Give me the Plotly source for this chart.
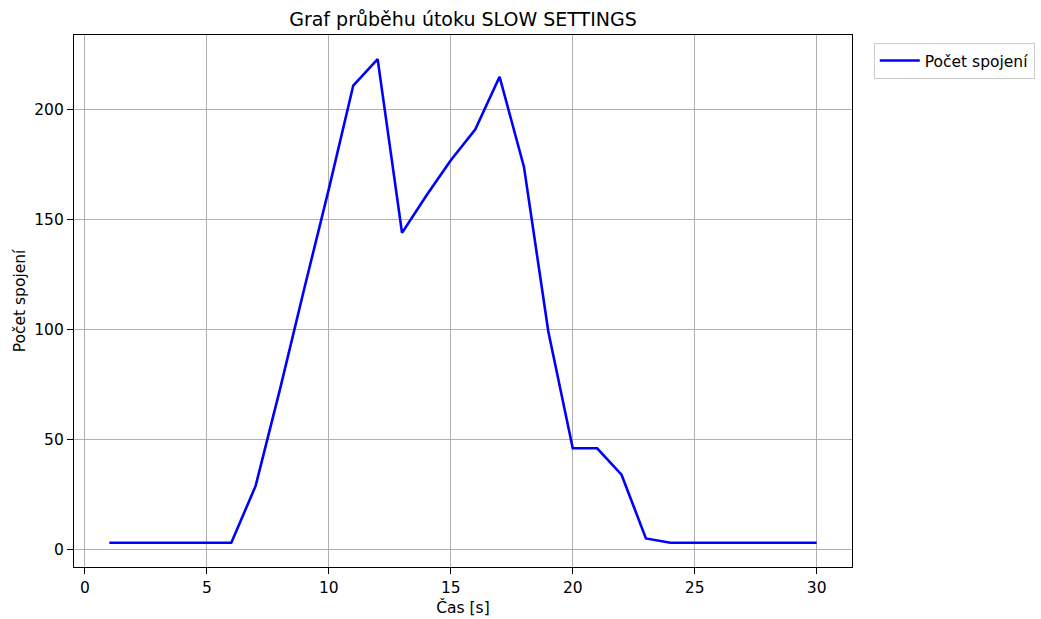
import plotly.graph_objects as go

cas = list(range(1, 31))
pocet_spojeni = [3, 3, 3, 3, 3, 3, 29, 73, 119, 164, 211, 223, 144, 161, 177, 191, 215, 174, 99, 46,
                 46, 34, 5, 3, 3, 3, 3, 3, 3, 3]
x_ticks = [0, 5, 10, 15, 20, 25, 30]
y_ticks = [0, 50, 100, 150, 200]

font_family = "DejaVu Sans"
small = 15.5

fig = go.Figure()
fig.add_trace(go.Scatter(
    x=cas, y=pocet_spojeni, mode="lines", name="Počet spojení",
    line=dict(color="#0000ff", width=2.6),
))

axis_common = dict(
    showline=True, linecolor="black", linewidth=1.2, mirror=True,
    showgrid=True, gridcolor="#b0b0b0", gridwidth=1.3,
    ticks="outside", ticklen=6, tickwidth=1.2, tickcolor="black",
    zeroline=False, automargin=False,
    tickfont=dict(family=font_family, size=small, color="black"),
)

fig.update_xaxes(range=[-0.45, 31.45], tickvals=x_ticks,
                 title=dict(text="Čas [s]", font=dict(family=font_family, size=small, color="black"), standoff=6),
                 **axis_common)
fig.update_yaxes(range=[-8, 234], tickvals=y_ticks,
                 title=dict(text="Počet spojení", font=dict(family=font_family, size=small, color="black"), standoff=4),
                 **axis_common)

fig.update_layout(
    width=1041, height=619,
    margin=dict(l=74, r=189, t=35, b=52, autoexpand=False),
    paper_bgcolor="white", plot_bgcolor="white",
    title=dict(text="Graf průběhu útoku SLOW SETTINGS", x=(74 + 852) / 2 / 1041, xanchor="center",
               y=1 - 19 / 619, yanchor="middle",
               font=dict(family=font_family, size=19, color="black")),
    showlegend=True,
    legend=dict(x=1.028, y=0.985, xanchor="left", yanchor="top", itemwidth=40,
                bordercolor="#cccccc", borderwidth=1, bgcolor="white",
                font=dict(family=font_family, size=small, color="black")),
)

fig.write_html("out.html", config={"displayModeBar": False},
               post_script="document.body.style.margin='0px';document.body.style.overflow='hidden';")
